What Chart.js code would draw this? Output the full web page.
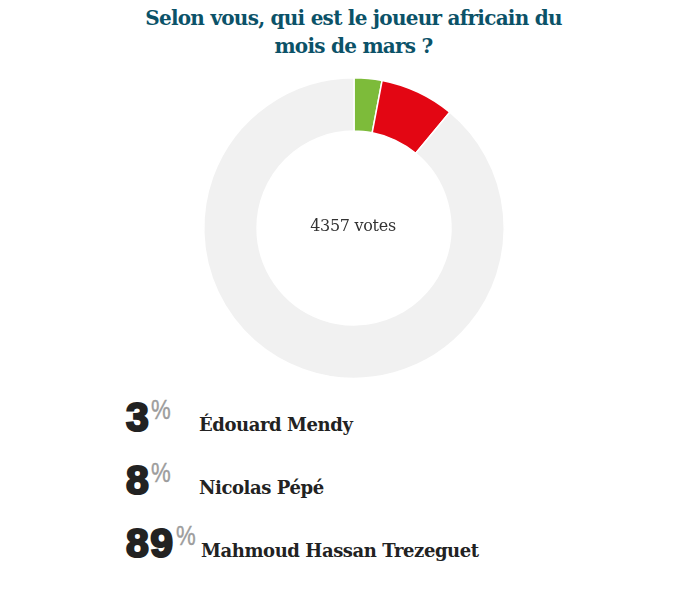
<!DOCTYPE html>
<html>
<head>
<meta charset="utf-8">
<script src="https://cdn.jsdelivr.net/npm/chart.js@4/dist/chart.umd.min.js"></script>
<style>
  html, body { margin: 0; padding: 0; background: #fff; }
  body { width: 687px; height: 599px; position: relative; overflow: hidden; }
  #titre { position: absolute; left: 0; top: 4px; width: 707px; text-align: center; font: bold 20px/28px "DejaVu Serif", serif; color: #0b5268; letter-spacing: -0.75px; }
  #zone { position: absolute; left: 194px; top: 68px; width: 320px; height: 320px; }
  #votes { position: absolute; left: 253px; top: 216px; width: 200px; text-align: center; font: 16px "DejaVu Serif", serif; color: #333; letter-spacing: -0.3px; }
  .ligne { position: absolute; color: #222; white-space: nowrap; }
  .pct { position: absolute; top: 0; font: 900 41px/44px "Liberation Sans", Arial, sans-serif; -webkit-text-stroke: 2.2px #222; letter-spacing: 1.5px; }
  .sym { position: absolute; top: 0; font: 27px/30px "Liberation Sans", Arial, sans-serif; color: #9c9c9c; -webkit-text-stroke: 0.4px #9c9c9c; transform: scaleX(0.82); transform-origin: left top; }
  .nom { position: absolute; top: 18px; font: bold 18px/24px "DejaVu Serif", serif; letter-spacing: -0.42px; }
</style>
</head>
<body>
<div id="titre"></div>
<div id="zone"><canvas id="c" width="320" height="320"></canvas></div>
<div id="votes"></div>
<div id="legende"></div>
<script>
var titre = ['Selon vous, qui est le joueur africain du', 'mois de mars ?'];
var joueurs = ['Édouard Mendy', 'Nicolas Pépé', 'Mahmoud Hassan Trezeguet'];
var pourcentages = [3, 8, 89];
var couleurs = ['#7dbb3a', '#e30613', '#f1f1f1'];
var totalVotes = 4357;

document.getElementById('titre').innerHTML = titre.join('<br>');
document.getElementById('votes').textContent = totalVotes + ' votes';

// légende sous le donut
var lignesY = [395, 458, 521];
var nomsX = [199, 199, 201];
var symX = [151, 151, 176];
var html = '';
joueurs.forEach(function(j, i) {
  html += '<div class="ligne" style="left:0;top:' + lignesY[i] + 'px">' +
    '<span class="pct" style="left:126px">' + pourcentages[i] + '</span>' +
    '<span class="sym" style="left:' + symX[i] + 'px">%</span>' +
    '<span class="nom" style="left:' + nomsX[i] + 'px">' + j + '</span></div>';
});
document.getElementById('legende').innerHTML = html;

new Chart(document.getElementById('c').getContext('2d'), {
  type: 'doughnut',
  data: { labels: joueurs, datasets: [{ data: pourcentages, backgroundColor: couleurs, borderColor: '#fff', borderWidth: 1.5 }] },
  options: {
    responsive: false, animation: false, cutout: '64.5%',
    layout: { padding: 9 },
    plugins: { legend: { display: false }, tooltip: { enabled: false } }
  }
});
</script>
</body>
</html>
